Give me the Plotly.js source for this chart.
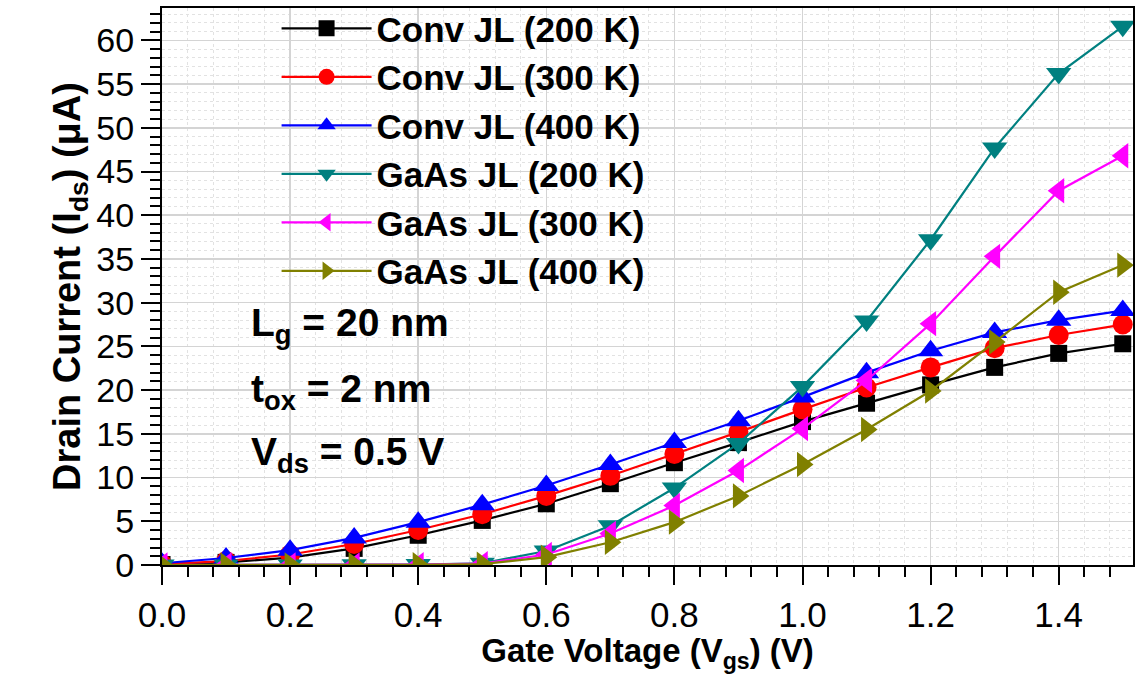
<!DOCTYPE html>
<html>
<head>
<meta charset="utf-8">
<script src="https://cdn.plot.ly/plotly-3.0.1.min.js"></script>
<style>html,body{margin:0;padding:0;background:#fff;}#chart{width:1136px;height:674px;}</style>
</head>
<body>
<div id="chart"></div>
<script>
const vgs = [0.0, 0.1, 0.2, 0.3, 0.4, 0.5, 0.6, 0.7, 0.8, 0.9, 1.0, 1.1, 1.2, 1.3, 1.4, 1.5];
const conv200 = [0.05, 0.3, 0.85, 1.9, 3.4, 5.1, 7.0, 9.3, 11.7, 14.0, 16.4, 18.5, 20.6, 22.6, 24.2, 25.3];
const conv300 = [0.1, 0.45, 1.2, 2.4, 4.0, 5.8, 7.9, 10.2, 12.7, 15.2, 17.8, 20.3, 22.6, 24.8, 26.3, 27.5];
const conv400 = [0.2, 0.8, 1.7, 3.1, 4.9, 6.9, 9.1, 11.5, 14.0, 16.5, 19.2, 22.0, 24.5, 26.6, 28.0, 29.1];
const gaas200 = [0.0, 0.0, 0.0, 0.02, 0.05, 0.2, 1.6, 4.5, 8.8, 13.9, 20.4, 27.9, 37.2, 47.7, 56.2, 61.6];
const gaas300 = [0.0, 0.0, 0.0, 0.01, 0.04, 0.15, 1.2, 3.6, 6.8, 10.8, 15.6, 21.1, 27.6, 35.3, 42.8, 46.8];
const gaas400 = [0.0, 0.0, 0.0, 0.01, 0.03, 0.1, 0.9, 2.6, 4.9, 7.9, 11.5, 15.5, 19.9, 25.5, 31.2, 34.3];

const seriesNames = ['Conv JL (200 K)', 'Conv JL (300 K)', 'Conv JL (400 K)', 'GaAs JL (200 K)', 'GaAs JL (300 K)', 'GaAs JL (400 K)'];
const seriesData = [conv200, conv300, conv400, gaas200, gaas300, gaas400];
const colors = ['#000000', '#ff0000', '#0000ff', '#008080', '#ff00ff', '#808000'];
const symbols = ['square', 'circle', 'triangle-up', 'triangle-down', 'triangle-left', 'triangle-right'];
const sizes = [17, 20, 22, 22, 22, 22];

const traces = seriesData.map((ys, i) => ({
  x: vgs, y: ys, name: seriesNames[i], type: 'scatter', mode: 'lines+markers',
  line: {color: colors[i], width: 2.2},
  marker: {color: colors[i], symbol: symbols[i], size: sizes[i], line: {width: 0}}
}));

const font = 'Liberation Sans, Arial, sans-serif';
const layout = {
  width: 1136, height: 674,
  margin: {l: 162, r: 3, t: 8, b: 109, autoexpand: false},
  paper_bgcolor: '#ffffff', plot_bgcolor: '#ffffff',
  font: {family: font, color: '#000'},
  showlegend: true,
  legend: {x: 0.118, y: 1.016, xanchor: 'left', yanchor: 'top', bgcolor: 'rgba(0,0,0,0)',
           font: {family: font, size: 35, color: '#000', weight: 'bold'}, itemwidth: 90, tracegroupgap: 0},
  xaxis: {
    range: [0, 1.516], dtick: 0.2, tick0: 0, tickformat: '.1f',
    ticks: 'outside', ticklen: 18, tickwidth: 2, tickcolor: '#000',
    showline: true, linecolor: '#000', linewidth: 2, mirror: true,
    showgrid: true, gridcolor: '#d4d4d4', gridwidth: 1.5, zeroline: false,
    tickfont: {family: font, size: 35, color: '#000'},
    minor: {dtick: 0.04, ticks: 'outside', ticklen: 10, tickwidth: 2, tickcolor: '#000', showgrid: true, gridcolor: '#e2e2e2', griddash: 'dot', gridwidth: 1},
    title: {text: '<b>Gate Voltage (V<sub>gs</sub>) (V)</b>', font: {family: font, size: 33, color: '#000'}, standoff: 4}
  },
  yaxis: {
    range: [0, 63.7], dtick: 5, tick0: 0,
    ticks: 'outside', ticklen: 19, tickwidth: 2, tickcolor: '#000',
    showline: true, linecolor: '#000', linewidth: 2, mirror: true,
    showgrid: true, gridcolor: '#d4d4d4', gridwidth: 1.5, zeroline: false,
    tickfont: {family: font, size: 34, color: '#000'},
    minor: {dtick: 1, ticks: 'outside', ticklen: 10, tickwidth: 2, tickcolor: '#000', showgrid: true, gridcolor: '#e2e2e2', griddash: 'dot', gridwidth: 1},
    title: {text: '<b>Drain Current (I<sub>ds</sub>) (\u03bcA)</b>', font: {family: font, size: 38, color: '#000'}, standoff: 4}
  },
  annotations: [
    {xref: 'paper', yref: 'paper', x: 0.09, y: (565 - 325) / 557, xanchor: 'left', yanchor: 'middle', showarrow: false,
     text: '<b>L<sub>g</sub> = 20 nm</b>', font: {family: font, size: 39, color: '#000'}},
    {xref: 'paper', yref: 'paper', x: 0.09, y: (565 - 391) / 557, xanchor: 'left', yanchor: 'middle', showarrow: false,
     text: '<b>t<sub>ox</sub> = 2 nm</b>', font: {family: font, size: 39, color: '#000'}},
    {xref: 'paper', yref: 'paper', x: 0.09, y: (565 - 455) / 557, xanchor: 'left', yanchor: 'middle', showarrow: false,
     text: '<b>V<sub>ds</sub> = 0.5 V</b>', font: {family: font, size: 39, color: '#000'}}
  ]
};

Plotly.newPlot('chart', traces, layout, {displayModeBar: false, staticPlot: true});
</script>
</body>
</html>
